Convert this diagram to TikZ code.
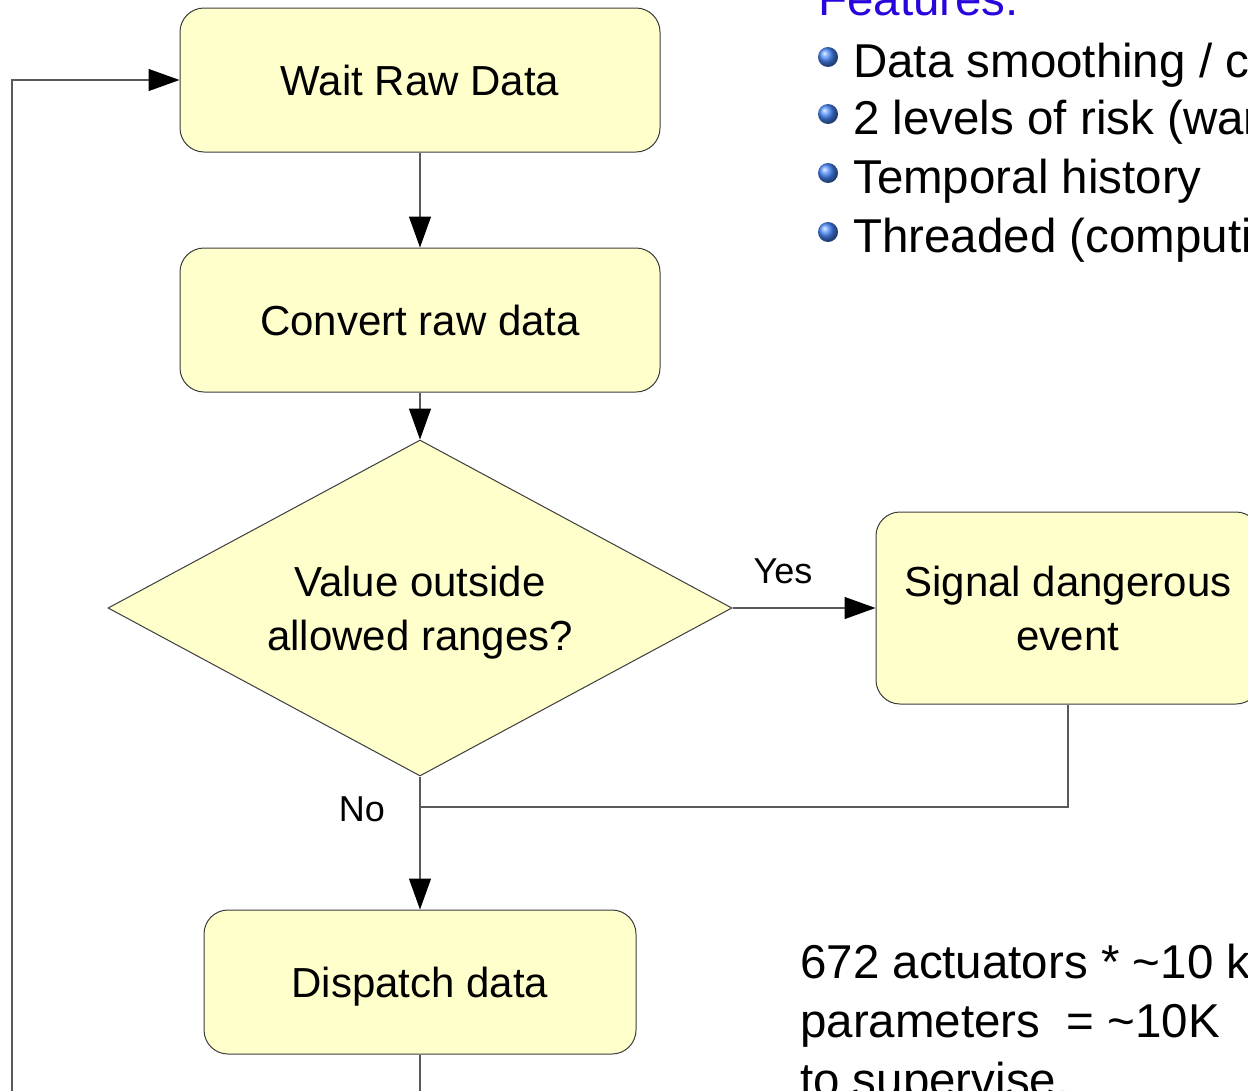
\documentclass[tikz,border=0pt]{standalone}
\usepackage{fontspec}
\setmainfont{Liberation Sans}
\usetikzlibrary{shapes.geometric,arrows.meta}
\definecolor{boxfill}{RGB}{255,255,204}
\definecolor{boxline}{RGB}{60,60,60}
\definecolor{wire}{RGB}{90,90,90}
\definecolor{featblue}{RGB}{38,6,221}
\definecolor{ballblue}{RGB}{70,135,250}
\begin{document}
\begin{tikzpicture}[x=1pt,y=-1pt,
  proc/.style={draw=boxline,line width=1pt,fill=boxfill,rounded corners=24pt,
    inner sep=0pt,align=center,text depth=0pt,font=\fontsize{42}{54}\selectfont},
  decide/.style={draw=boxline,line width=1pt,fill=boxfill,diamond,inner sep=0pt},
  flow/.style={draw=wire,line width=1.2pt},
  tip/.style={-{Triangle[length=31pt,width=22pt,black]}},
  lbl/.style={font=\fontsize{36}{40}\selectfont,inner sep=0pt,anchor=base},
  big/.style={font=\fontsize{47.5}{58}\selectfont,inner sep=0pt,anchor=base west},
  bullet/.style={ball color=ballblue,draw=none}]
\useasboundingbox (0,0) rectangle (1248,1090);
\clip (0,0) rectangle (1248,1090);

% process steps
\node[proc,minimum width=480pt,minimum height=144pt] (wait) at (420,80) {Wait Raw Data};
\node[proc,minimum width=480pt,minimum height=144pt] (convert) at (420,320) {Convert raw data};
\node[decide,minimum width=624pt,minimum height=336pt] (check) at (420,608) {};
\node[inner sep=0pt,align=center,text depth=0pt,font=\fontsize{42}{54}\selectfont] (checktext) at (420,608) {Value outside\\allowed ranges?};
\node[proc,minimum width=384pt,minimum height=192pt] (signal) at (1068,608) {Signal dangerous\\event};
\node[proc,minimum width=432pt,minimum height=144pt] (dispatch) at (420,982) {Dispatch data};

\coordinate (merge) at (420,807);
\coordinate (loop) at (12,1120);

% connectors
\draw[flow,tip] (wait.south) -- (convert.north);
\draw[flow,tip] (convert.south) -- (check.north);
\draw[flow,tip] (check.east) -- (signal.west);
\draw[flow] (signal.south) |- (merge);
\draw[flow,tip] (check.south) -- (dispatch.north);
\draw[flow,tip] (dispatch.south) |- (loop) |- (wait.west);

\node[lbl] (yes) at (783,583) {Yes};
\node[lbl] (no) at (362,821) {No};

% feature list
\node[big,text=featblue] (feat) at (818,15) {Features:};
\foreach \y/\t [count=\i] in {77/{Data smoothing / corrections},134/{2 levels of risk (warning / alarm)},193/{Temporal history},252/{Threaded (computing)}}{
  \shade[bullet] (828,\y-20) circle (10pt);
  \node[big] (item\i) at (853,\y) {\t};
}

% size note
\node[big] (note1) at (800,978) {672 actuators * \textasciitilde10 key};
\node[big] (note2) at (800,1037) {parameters \ = \textasciitilde10K};
\node[big] (note3) at (800,1096) {to supervise.};
\end{tikzpicture}
\end{document}
